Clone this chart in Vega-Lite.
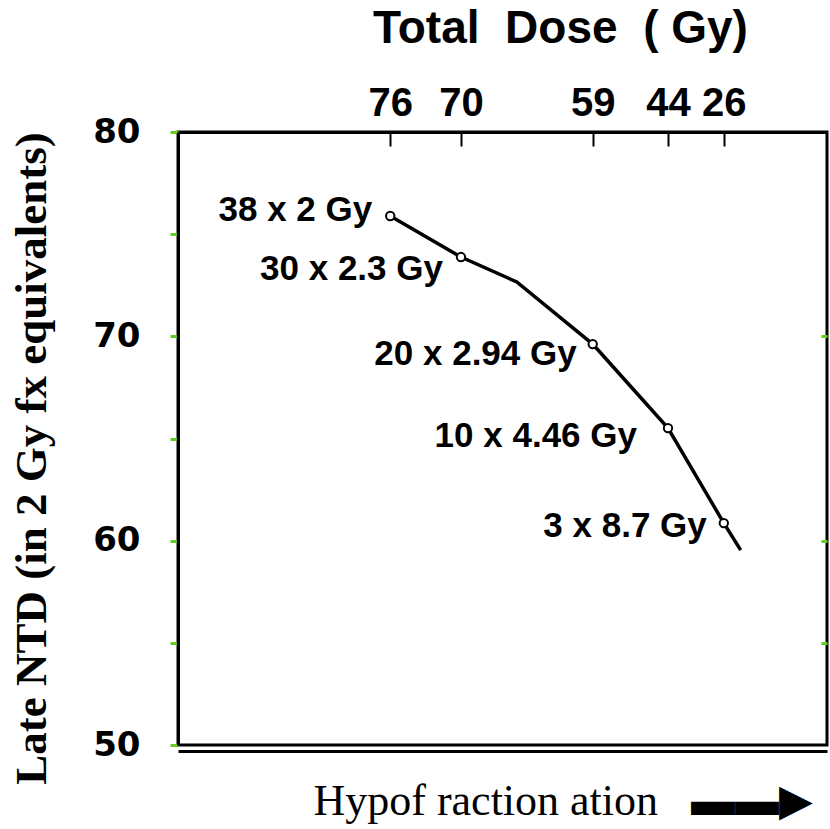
{
  "$schema": "https://vega.github.io/schema/vega-lite/v6.json",
  "width": 649,
  "height": 613,
  "autosize": {"type": "none"},
  "padding": {"left": 178, "top": 132, "right": 3, "bottom": 84},
  "background": "white",
  "config": {"view": {"stroke": "black", "strokeWidth": 3}},
  "data": {
    "values": [
      {"step": 32.7, "ntd": 75.89, "label": "38 x 2 Gy"},
      {"step": 43.6, "ntd": 73.88, "label": "30 x 2.3 Gy"},
      {"step": 52.2, "ntd": 72.66, "label": null},
      {"step": 63.9, "ntd": 69.62, "label": "20 x 2.94 Gy"},
      {"step": 66.1, "ntd": 68.84, "label": null},
      {"step": 75.5, "ntd": 65.51, "label": "10 x 4.46 Gy"},
      {"step": 84.1, "ntd": 60.86, "label": "3 x 8.7 Gy"},
      {"step": 86.7, "ntd": 59.54, "label": null}
    ]
  },
  "resolve": {"axis": {"x": "independent", "y": "independent"}},
  "layer": [
    {
      "mark": {"type": "line", "color": "black", "strokeWidth": 3.5},
      "encoding": {
        "x": {
          "field": "step", "type": "quantitative",
          "scale": {"domain": [0, 100], "nice": false, "zero": false},
          "axis": {
            "orient": "top",
            "values": [32.7, 43.6, 63.9, 75.5, 84.1],
            "labelExpr": "datum.value < 38 ? '76' : datum.value < 50 ? '70' : datum.value < 70 ? '59' : datum.value < 80 ? '44' : '26'",
            "labelFont": "Liberation Sans", "labelFontWeight": "bold", "labelFontSize": 40, "labelColor": "black",
            "labelPadding": 23, "labelFlush": false, "labelOverlap": false,
            "tickSize": -14, "tickColor": "black", "tickWidth": 2,
            "domainColor": "black", "domainWidth": 3, "grid": false,
            "title": "Total\u00a0 Dose\u00a0 (\u00a0Gy)",
            "titleFont": "Liberation Sans", "titleFontWeight": "bold", "titleFontSize": 46, "titleColor": "black",
            "titlePadding": 31, "titleX": 382
          }
        },
        "y": {
          "field": "ntd", "type": "quantitative",
          "scale": {"domain": [50, 80], "nice": false, "zero": false},
          "axis": {
            "orient": "left",
            "values": [50, 55, 60, 65, 70, 75, 80],
            "labelExpr": "datum.value % 10 === 0 ? datum.label : ''",
            "labelFont": "DejaVu Sans", "labelFontWeight": "bold", "labelFontSize": 34, "labelColor": "black",
            "labelPadding": 30, "labelFlush": false,
            "tickSize": 8, "tickColor": "#66cc22", "tickWidth": 3,
            "domainColor": "black", "domainWidth": 3, "grid": false,
            "title": "Late NTD (in 2 Gy fx equivalents)",
            "titleFont": "Liberation Serif", "titleFontWeight": "bold", "titleFontSize": 45, "titleColor": "black",
            "titlePadding": 38, "titleAnchor": "middle", "titleY": 326
          }
        }
      }
    },
    {
      "transform": [{"filter": "datum.label != null"}],
      "mark": {"type": "point", "shape": "circle", "filled": true, "fill": "white", "stroke": "black", "strokeWidth": 2, "size": 70, "opacity": 1},
      "encoding": {
        "x": {
          "field": "step", "type": "quantitative",
          "axis": {
            "orient": "bottom", "labels": false, "ticks": false, "grid": false,
            "domainColor": "black", "domainWidth": 3, "offset": 6,
            "title": "Hypof raction ation\u00a0\u00a0 \u25ac\u25ac\u25b6",
            "titleFont": "Liberation Serif", "titleFontWeight": "normal", "titleFontSize": 44, "titleColor": "black",
            "titleX": 135, "titleAlign": "left", "titlePadding": 28
          }
        },
        "y": {
          "field": "ntd", "type": "quantitative",
          "axis": {
            "orient": "right", "values": [55, 60, 70], "labels": false, "domain": false, "grid": false,
            "tickSize": -6, "tickColor": "#66cc22", "tickWidth": 3, "title": null
          }
        }
      }
    },
    {
      "transform": [{"filter": "datum.label === '38 x 2 Gy'"}],
      "mark": {"type": "text", "align": "right", "baseline": "middle", "dx": -18, "dy": -6, "font": "Liberation Sans", "fontWeight": "bold", "fontSize": 35, "color": "black"},
      "encoding": {"x": {"field": "step", "type": "quantitative", "axis": null}, "y": {"field": "ntd", "type": "quantitative", "axis": null}, "text": {"field": "label"}}
    },
    {
      "transform": [{"filter": "datum.label === '30 x 2.3 Gy'"}],
      "mark": {"type": "text", "align": "right", "baseline": "middle", "dx": -18, "dy": 12, "font": "Liberation Sans", "fontWeight": "bold", "fontSize": 35, "color": "black"},
      "encoding": {"x": {"field": "step", "type": "quantitative", "axis": null}, "y": {"field": "ntd", "type": "quantitative", "axis": null}, "text": {"field": "label"}}
    },
    {
      "transform": [{"filter": "datum.label === '20 x 2.94 Gy'"}],
      "mark": {"type": "text", "align": "right", "baseline": "middle", "dx": -16, "dy": 10, "font": "Liberation Sans", "fontWeight": "bold", "fontSize": 35, "color": "black"},
      "encoding": {"x": {"field": "step", "type": "quantitative", "axis": null}, "y": {"field": "ntd", "type": "quantitative", "axis": null}, "text": {"field": "label"}}
    },
    {
      "transform": [{"filter": "datum.label === '10 x 4.46 Gy'"}],
      "mark": {"type": "text", "align": "right", "baseline": "middle", "dx": -31, "dy": 8, "font": "Liberation Sans", "fontWeight": "bold", "fontSize": 35, "color": "black"},
      "encoding": {"x": {"field": "step", "type": "quantitative", "axis": null}, "y": {"field": "ntd", "type": "quantitative", "axis": null}, "text": {"field": "label"}}
    },
    {
      "transform": [{"filter": "datum.label === '3 x 8.7 Gy'"}],
      "mark": {"type": "text", "align": "right", "baseline": "middle", "dx": -17, "dy": 3, "font": "Liberation Sans", "fontWeight": "bold", "fontSize": 35, "color": "black"},
      "encoding": {"x": {"field": "step", "type": "quantitative", "axis": null}, "y": {"field": "ntd", "type": "quantitative", "axis": null}, "text": {"field": "label"}}
    }
  ]
}
